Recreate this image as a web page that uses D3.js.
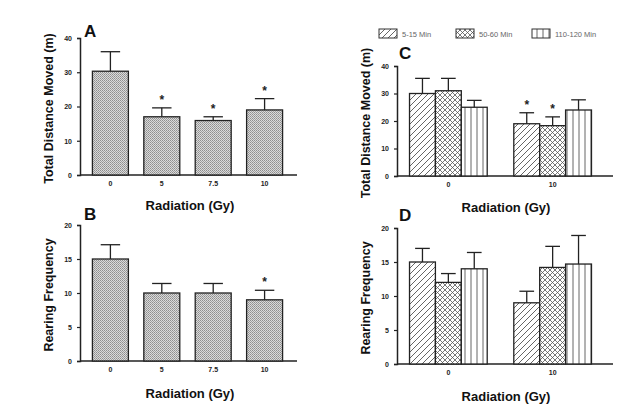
<!DOCTYPE html>
<html>
<head>
<meta charset="utf-8">
<script src="https://cdn.jsdelivr.net/npm/d3@7"></script>
<style>
  html, body { margin: 0; padding: 0; background: #fff; }
  svg { display: block; font-family: "Liberation Sans", Arial, sans-serif; }
</style>
</head>
<body>
<svg id="chart" width="627" height="414"></svg>
<script>
// ---------- DATA ----------
const doses = ["0", "5", "7.5", "10"];
const distanceA = [30.3, 17, 15.9, 19];
const distanceAErr = [5.7, 2.6, 1.1, 3.3];
const distanceAStar = [false, true, true, true];

const rearingB = [15, 10, 10, 9];
const rearingBErr = [2.1, 1.4, 1.4, 1.4];
const rearingBStar = [false, false, false, true];

const groupDoses = ["0", "10"];
const timeSeries = ["5-15 Min", "50-60 Min", "110-120 Min"];

const distC_5_15 = [30, 19];
const distC_50_60 = [31, 18.3];
const distC_110_120 = [25, 24];
const distCErr_5_15 = [5.5, 4];
const distCErr_50_60 = [4.5, 3.2];
const distCErr_110_120 = [2.5, 3.7];
const distCStar_5_15 = [false, true];
const distCStar_50_60 = [false, true];
const distCStar_110_120 = [false, false];

const rearD_5_15 = [15, 9];
const rearD_50_60 = [12, 14.2];
const rearD_110_120 = [14, 14.7];
const rearDErr_5_15 = [2, 1.7];
const rearDErr_50_60 = [1.3, 3.1];
const rearDErr_110_120 = [2.4, 4.2];

const ticks40 = [0, 10, 20, 30, 40];
const ticks20 = [0, 5, 10, 15, 20];

// ---------- SETUP ----------
const svg = d3.select("#chart");
const defs = svg.append("defs");

// dotted grey pattern
const pDots = defs.append("pattern").attr("id", "dots").attr("patternUnits", "userSpaceOnUse")
  .attr("width", 2).attr("height", 2);
pDots.append("rect").attr("width", 2).attr("height", 2).attr("fill", "#dadada");
pDots.append("rect").attr("width", 1).attr("height", 1).attr("fill", "#8e8e8e");
pDots.append("rect").attr("x", 1).attr("y", 1).attr("width", 1).attr("height", 1).attr("fill", "#a0a0a0");

// diagonal
const pDiag = defs.append("pattern").attr("id", "diag").attr("patternUnits", "userSpaceOnUse")
  .attr("width", 6).attr("height", 6);
pDiag.append("rect").attr("width", 6).attr("height", 6).attr("fill", "#fff");
pDiag.append("path").attr("d", "M0,6 L6,0 M-1,1 L1,-1 M5,7 L7,5")
  .attr("stroke", "#555").attr("stroke-width", 0.9);

// crosshatch
const pCross = defs.append("pattern").attr("id", "cross").attr("patternUnits", "userSpaceOnUse")
  .attr("width", 5).attr("height", 5);
pCross.append("rect").attr("width", 5).attr("height", 5).attr("fill", "#fff");
pCross.append("path").attr("d", "M0,5 L5,0 M-1,1 L1,-1 M4,6 L6,4 M0,0 L5,5 M-1,4 L1,6 M4,-1 L6,1")
  .attr("stroke", "#555").attr("stroke-width", 0.8);

// vertical
const pVert = defs.append("pattern").attr("id", "vert").attr("patternUnits", "userSpaceOnUse")
  .attr("width", 6).attr("height", 6);
pVert.append("rect").attr("width", 6).attr("height", 6).attr("fill", "#fff");
pVert.append("path").attr("d", "M3,0 L3,6").attr("stroke", "#555").attr("stroke-width", 0.9);

const seriesFill = ["url(#diag)", "url(#cross)", "url(#vert)"];

function drawAxes(g, x0, x1, y, ticks, yLabel, xLabelX, xLabelY, letter, letterX, letterY, yLabelX) {
  // y axis
  const ya = g.append("g").attr("transform", `translate(${x0},0)`)
    .call(d3.axisLeft(y).tickValues(ticks).tickSize(3).tickPadding(5).tickFormat(d3.format("d")));
  ya.select(".domain").attr("stroke", "#222").attr("stroke-width", 1.5);
  ya.selectAll(".tick line").attr("stroke", "#222").attr("stroke-width", 1.2);
  ya.selectAll(".tick text").attr("font-size", 7).attr("font-weight", "bold").attr("fill", "#222")
    .attr("font-family", "Liberation Sans, Arial, sans-serif");
  // x axis line
  g.append("line").attr("x1", x0).attr("x2", x1).attr("y1", y(0)).attr("y2", y(0))
    .attr("stroke", "#222").attr("stroke-width", 1.5);
  // y label
  const [ymin, ymax] = y.range();
  g.append("text").attr("transform", `translate(${yLabelX},${(ymin + ymax) / 2 + 2}) rotate(-90)`)
    .attr("text-anchor", "middle").attr("font-size", 12.5).attr("font-weight", "bold").attr("fill", "#111")
    .text(yLabel);
  // x label
  g.append("text").attr("x", xLabelX).attr("y", xLabelY).attr("text-anchor", "middle")
    .attr("font-size", 13).attr("font-weight", "bold").attr("fill", "#111").text("Radiation (Gy)");
  // letter
  g.append("text").attr("x", letterX).attr("y", letterY).attr("font-size", 17).attr("font-weight", "bold")
    .attr("fill", "#111").text(letter);
}

function drawErr(g, cx, bw, y, v, e) {
  g.append("line").attr("x1", cx).attr("x2", cx).attr("y1", y(v)).attr("y2", y(v + e))
    .attr("stroke", "#222").attr("stroke-width", 1.3);
  g.append("line").attr("x1", cx - bw * 0.27).attr("x2", cx + bw * 0.27).attr("y1", y(v + e)).attr("y2", y(v + e))
    .attr("stroke", "#222").attr("stroke-width", 1.3);
}

function drawStar(g, cx, yTop) {
  g.append("text").attr("x", cx).attr("y", yTop - 4).attr("text-anchor", "middle")
    .attr("font-size", 12).attr("font-weight", "bold").attr("fill", "#222").text("*");
}

// ---------- Simple panels (A, B) ----------
function simplePanel(values, errs, stars, yDomain, yRange, ticks, yLabel, letter, letterY, xLabelY) {
  const g = svg.append("g");
  const x = d3.scaleBand().domain(doses).range([77, 298]).paddingInner(0.3).paddingOuter(0.3);
  const y = d3.scaleLinear().domain(yDomain).range(yRange);
  drawAxes(g, 80, 297, y, ticks, yLabel, 190, xLabelY, letter, 84, letterY, 53);
  const bw = x.bandwidth();
  doses.forEach((d, i) => {
    g.append("rect").attr("x", x(d)).attr("y", y(values[i])).attr("width", bw)
      .attr("height", y(0) - y(values[i])).attr("fill", "url(#dots)")
      .attr("stroke", "#222").attr("stroke-width", 1.3);
    const cx = x(d) + bw / 2;
    drawErr(g, cx, bw, y, values[i], errs[i]);
    if (stars[i]) drawStar(g, cx, y(values[i] + errs[i]));
  });
  const xa = g.append("g").attr("transform", `translate(0,${y(0)})`)
    .call(d3.axisBottom(x).tickSize(0).tickPadding(6));
  xa.select(".domain").remove();
  xa.selectAll(".tick text").attr("font-size", 7).attr("font-weight", "bold").attr("fill", "#222")
    .attr("font-family", "Liberation Sans, Arial, sans-serif");
}

simplePanel(distanceA, distanceAErr, distanceAStar, [0, 40], [175, 38], ticks40,
  "Total Distance Moved (m)", "A", 37, 210);
simplePanel(rearingB, rearingBErr, rearingBStar, [0, 20], [361, 225], ticks20,
  "Rearing Frequency", "B", 220, 398);

// ---------- Grouped panels (C, D) ----------
function groupedPanel(seriesVals, seriesErrs, seriesStars, yDomain, yRange, ticks, yLabel, letter, letterY, xLabelY) {
  const g = svg.append("g");
  const x0 = d3.scaleBand().domain(groupDoses).range([397, 604]).paddingInner(0.255).paddingOuter(0.12);
  const x1 = d3.scaleBand().domain(timeSeries).range([0, x0.bandwidth()]);
  const y = d3.scaleLinear().domain(yDomain).range(yRange);
  drawAxes(g, 397, 613, y, ticks, yLabel, 506, xLabelY, letter, 399, letterY, 370);
  const bw = x1.bandwidth();
  groupDoses.forEach((gd, gi) => {
    timeSeries.forEach((s, si) => {
      const v = seriesVals[si][gi], e = seriesErrs[si][gi];
      const bx = x0(gd) + x1(s);
      g.append("rect").attr("x", bx).attr("y", y(v)).attr("width", bw)
        .attr("height", y(0) - y(v)).attr("fill", seriesFill[si])
        .attr("stroke", "#222").attr("stroke-width", 1.3);
      drawErr(g, bx + bw / 2, bw * 1.05, y, v, e);
      if (seriesStars && seriesStars[si][gi]) drawStar(g, bx + bw / 2, y(v + e));
    });
  });
  const xa = g.append("g").attr("transform", `translate(0,${y(0)})`)
    .call(d3.axisBottom(x0).tickSize(0).tickPadding(6));
  xa.select(".domain").remove();
  xa.selectAll(".tick text").attr("font-size", 7).attr("font-weight", "bold").attr("fill", "#222")
    .attr("font-family", "Liberation Sans, Arial, sans-serif");
}

groupedPanel([distC_5_15, distC_50_60, distC_110_120],
  [distCErr_5_15, distCErr_50_60, distCErr_110_120],
  [distCStar_5_15, distCStar_50_60, distCStar_110_120],
  [0, 40], [176, 66], ticks40, "Total Distance Moved (m)", "C", 59, 212);
groupedPanel([rearD_5_15, rearD_50_60, rearD_110_120],
  [rearDErr_5_15, rearDErr_50_60, rearDErr_110_120],
  null,
  [0, 20], [364, 228], ticks20, "Rearing Frequency", "D", 221, 401);

// ---------- Legend ----------
const legendX = [379, 456, 532];
const legend = svg.append("g");
timeSeries.forEach((s, i) => {
  legend.append("rect").attr("x", legendX[i]).attr("y", 29).attr("width", 18).attr("height", 9)
    .attr("fill", seriesFill[i]).attr("stroke", "#333").attr("stroke-width", 1);
  legend.append("text").attr("x", legendX[i] + 23).attr("y", 37).attr("font-size", 7.5)
    .attr("fill", "#666").text(s);
});
</script>
</body>
</html>
